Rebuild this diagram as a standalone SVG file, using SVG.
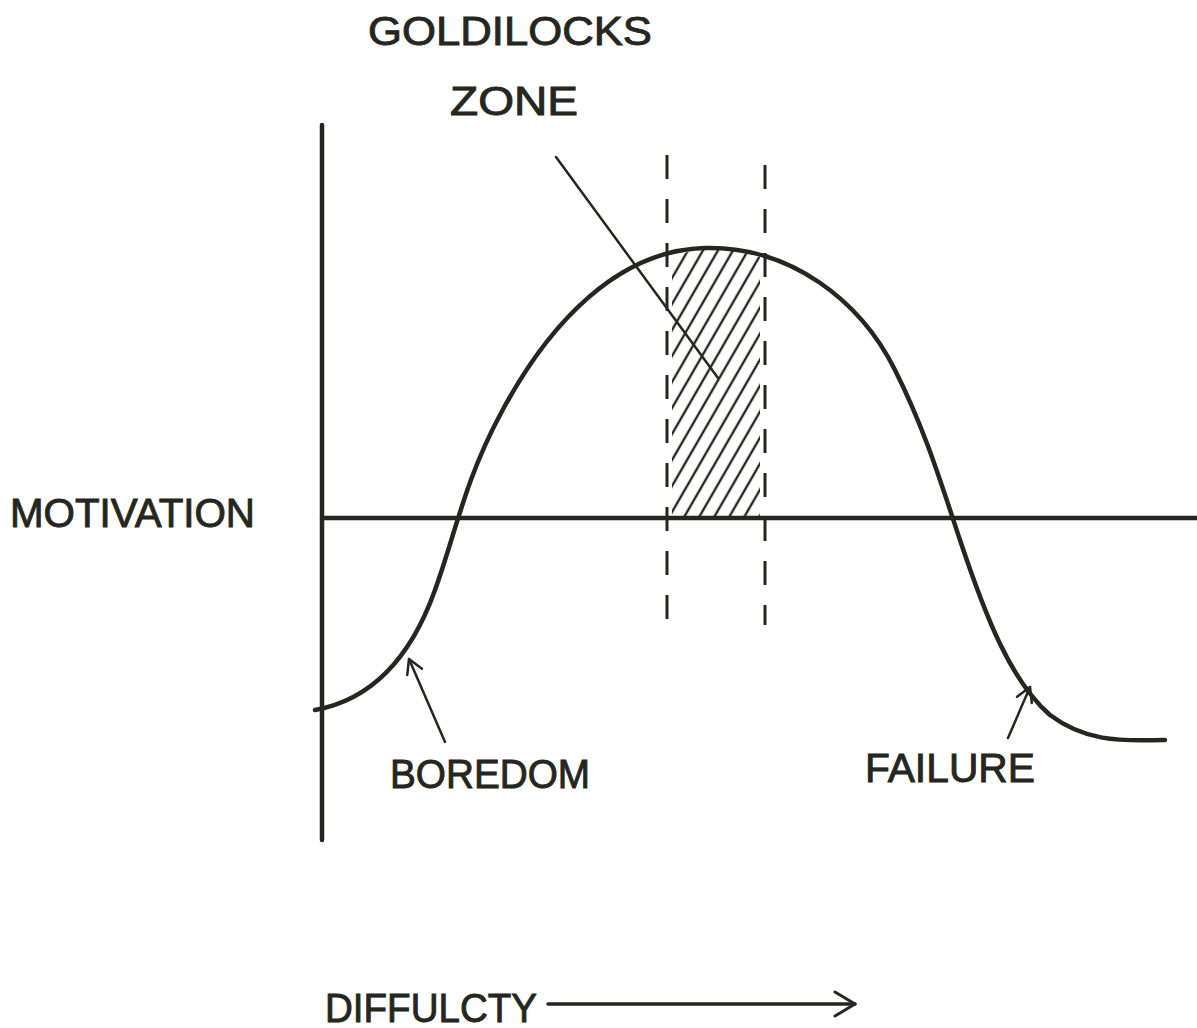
<svg xmlns="http://www.w3.org/2000/svg" width="1197" height="1028" viewBox="0 0 1197 1028">
<style>
.ink{stroke:#262620;fill:none;stroke-linecap:round;stroke-linejoin:round}
.thick{stroke-width:4.5}
.thin{stroke-width:2.5}
.dash{stroke:#262620;stroke-width:3;stroke-dasharray:24 20;fill:none}
.lbl{font-family:"Liberation Sans",Arial,sans-serif;font-size:40px;fill:#262620;stroke:#262620;stroke-width:0.9}
</style>
<defs>
<marker id="head" viewBox="0 0 20 20" refX="17" refY="10" markerWidth="20" markerHeight="20" markerUnits="userSpaceOnUse" orient="auto">
<path d="M3,2 L17,10 L3,18" fill="none" stroke="#262620" stroke-width="2.5" stroke-linecap="round" stroke-linejoin="round"/>
</marker>
<marker id="head2" viewBox="0 0 30 30" refX="26" refY="15" markerWidth="30" markerHeight="30" markerUnits="userSpaceOnUse" orient="auto">
<path d="M6,3 L26,15 L6,27" fill="none" stroke="#262620" stroke-width="3" stroke-linecap="round" stroke-linejoin="round"/>
</marker>
<pattern id="hatch" width="13" height="20" patternUnits="userSpaceOnUse" patternTransform="rotate(30)">
<line x1="6" y1="0" x2="6" y2="20" stroke="#262620" stroke-width="2.4"/>
</pattern>
<clipPath id="zoneClip">
<polygon points="672,258 690,251 705,248 730,249 760,257 760,516 672,516"/>
</clipPath>
</defs>
<g id="hatch-zone">
<rect x="660" y="240" width="110" height="280" fill="url(#hatch)" clip-path="url(#zoneClip)"/>
</g>
<g id="axes">
<line class="ink thick" x1="322" y1="125" x2="322" y2="840"/>
<line class="ink thick" x1="322" y1="518" x2="1197" y2="518"/>
</g>
<g id="dashed-bounds">
<line class="dash" x1="667" y1="155" x2="667" y2="630"/>
<line class="dash" x1="765" y1="165" x2="765" y2="625"/>
</g>
<g id="curve">
<path class="ink thick" d="M315,710 C370,700 410,660 435,590 C455,535 465,480 500,415 C550,320 620,250 705,248 C790,246 860,300 895,370 C925,430 940,480 960,540 C985,615 1010,680 1050,715 C1090,745 1130,740 1165,740"/>
</g>
<g id="connectors">
<line class="ink thin" x1="556" y1="157" x2="718" y2="378"/>
<line class="ink thin" x1="445" y1="742" x2="409" y2="659" marker-end="url(#head)"/>
<line class="ink thin" x1="1008" y1="738" x2="1030" y2="687" marker-end="url(#head)"/>
<line class="ink" style="stroke-width:3.5" x1="548" y1="1004" x2="855" y2="1004" marker-end="url(#head2)"/>
</g>
<g id="label-goldilocks">
<text class="lbl" x="368" y="45" textLength="284" lengthAdjust="spacingAndGlyphs">GOLDILOCKS</text>
<text class="lbl" x="450" y="115" textLength="128" lengthAdjust="spacingAndGlyphs">ZONE</text>
</g>
<g id="label-motivation">
<text class="lbl" x="10" y="527" textLength="245" lengthAdjust="spacingAndGlyphs">MOTIVATION</text>
</g>
<g id="label-boredom">
<text class="lbl" x="390" y="788" textLength="200" lengthAdjust="spacingAndGlyphs">BOREDOM</text>
</g>
<g id="label-failure">
<text class="lbl" x="865" y="782" textLength="170" lengthAdjust="spacingAndGlyphs">FAILURE</text>
</g>
<g id="label-difficulty">
<text class="lbl" x="325" y="1022" textLength="212" lengthAdjust="spacingAndGlyphs">DIFFULCTY</text>
</g>
</svg>
